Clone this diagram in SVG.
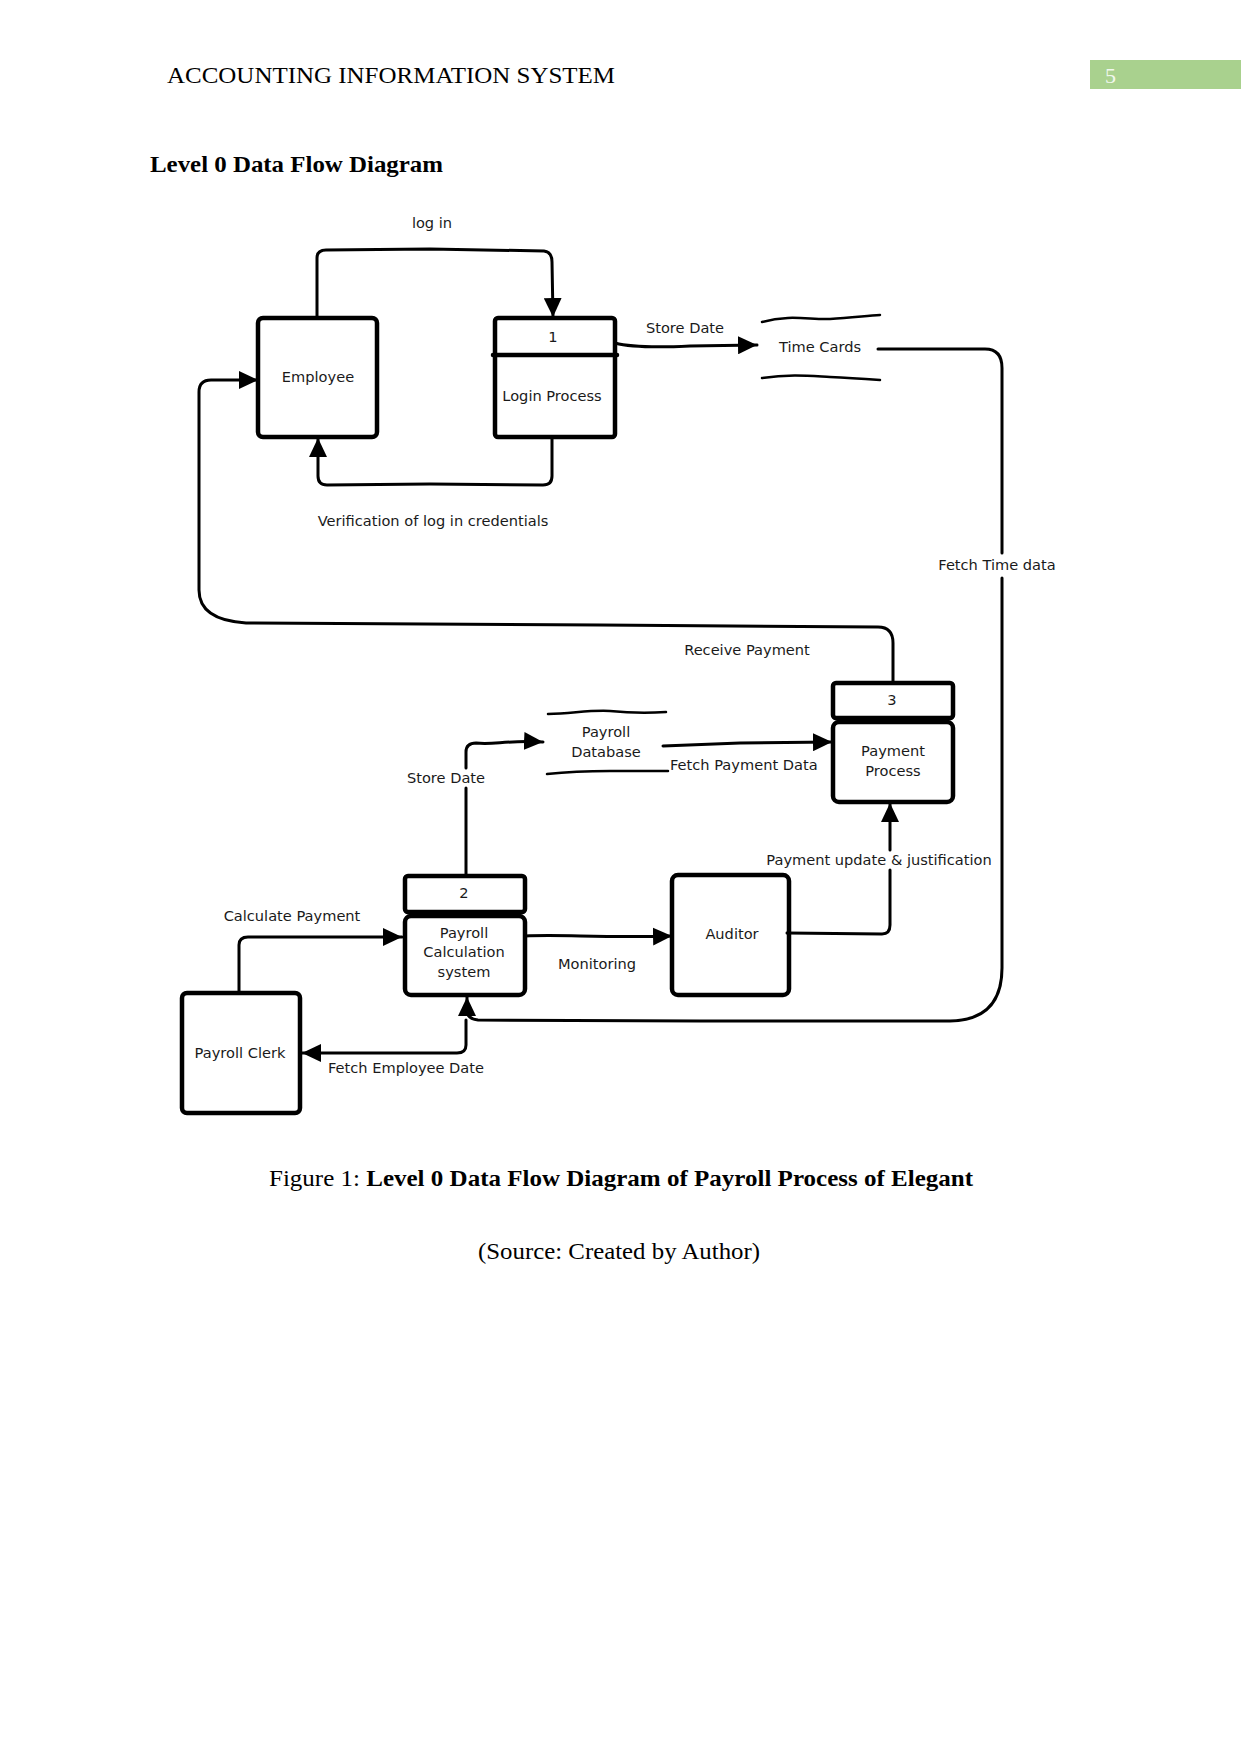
<svg xmlns="http://www.w3.org/2000/svg" width="1241" height="1754" viewBox="0 0 1241 1754">
<style>
.bg{fill:#fff}
.node{fill:none;stroke:#000;stroke-width:4.5;stroke-linejoin:round;stroke-linecap:round}
.store{fill:none;stroke:#000;stroke-width:2.5;stroke-linecap:round}
.edge{fill:none;stroke:#000;stroke-width:3;stroke-linejoin:round;stroke-linecap:round}
.lbl{font-family:"DejaVu Sans",sans-serif;font-size:14.6px;fill:#1a1a1a;text-anchor:middle}
.serif{font-family:"Liberation Serif","Times New Roman",serif;fill:#000}
</style>
<defs>
<marker id="arr" markerUnits="userSpaceOnUse" markerWidth="20" markerHeight="18" refX="19" refY="9" orient="auto">
<path d="M0,0 L19,9 L0,18 Z" fill="#000"/>
</marker>
</defs>
<rect class="bg" x="0" y="0" width="1241" height="1754"/>

<g id="page-header">
<text class="serif" x="167" y="83" font-size="24" textLength="448" lengthAdjust="spacingAndGlyphs">ACCOUNTING INFORMATION SYSTEM</text>
<rect x="1090" y="60" width="151" height="29" fill="#a9d18e"/>
<text class="serif" x="1105" y="83" font-size="22" style="fill:#f2f8ee">5</text>
<text class="serif" x="150" y="172" font-size="24" font-weight="bold" textLength="293" lengthAdjust="spacingAndGlyphs">Level 0 Data Flow Diagram</text>
</g>

<g id="connectors">
<!-- log in -->
<path class="edge" d="M317,318 V258 Q317,250 326,250 L430,249 L544,251 Q552,252 552,262 L553,317" marker-end="url(#arr)"/>
<!-- verification -->
<path class="edge" d="M552,437 V476 Q552,485 543,485 L430,484 L327,485 Q318,485 318,476 V438" marker-end="url(#arr)"/>
<!-- store date to time cards -->
<path class="edge" d="M615,343 C630,347 650,348 690,346 L757,345" marker-end="url(#arr)"/>
<!-- fetch time data -->
<path class="edge" d="M878,349 H985 Q1002,349 1002,368 V553"/>
<path class="edge" d="M1002,578 V968 Q1002,1020 950,1021 L700,1021 L478,1020 Q467,1019 467,1010 L467,997" marker-end="url(#arr)"/>
<!-- receive payment -->
<path class="edge" d="M893,683 V643 Q893,627 878,627 L600,625 L246,623 Q199,620 199,590 V392 Q199,380 211,380 H258" marker-end="url(#arr)"/>
<!-- store date to payroll database -->
<path class="edge" d="M466,876 V788"/>
<path class="edge" d="M466,768 V752 Q466,743 476,743 C495,745 505,740 543,742" marker-end="url(#arr)"/>
<!-- fetch payment data -->
<path class="edge" d="M663,746 L740,743 L832,742" marker-end="url(#arr)"/>
<!-- payment update & justification -->
<path class="edge" d="M787,933 L882,934 Q890,934 890,925 V870"/>
<path class="edge" d="M890,850 V803" marker-end="url(#arr)"/>
<!-- calculate payment -->
<path class="edge" d="M239,993 V945 Q239,937 248,937 H402" marker-end="url(#arr)"/>
<!-- fetch employee date -->
<path class="edge" d="M466,1020 V1045 Q466,1053 457,1053 H302" marker-end="url(#arr)"/>
<!-- monitoring -->
<path class="edge" d="M525,936 C560,934 600,938 672,936" marker-end="url(#arr)"/>
</g>

<g id="employee">
<rect class="node" x="258" y="318" width="119" height="119" rx="5"/>
<text class="lbl" x="318" y="382">Employee</text>
</g>

<g id="process-1">
<rect class="node" x="495" y="318" width="120" height="119" rx="3"/>
<line class="node" x1="493" y1="355" x2="617" y2="355"/>
<text class="lbl" x="553" y="342">1</text>
<text class="lbl" x="552" y="401">Login Process</text>
</g>

<g id="time-cards">
<path class="store" d="M762,322 C790,314 810,320 830,319 C850,318 865,316 880,315"/>
<path class="store" d="M762,378 C790,374 810,376 830,377 C850,378 865,379 880,380"/>
<text class="lbl" x="820" y="352">Time Cards</text>
</g>

<g id="payroll-database">
<path class="store" d="M548,714 C575,713 590,710 610,711 C630,713 650,713 666,712"/>
<path class="store" d="M547,774 C575,771 590,771 610,771 C630,771 650,771 668,771"/>
<text class="lbl" x="606" y="737">Payroll</text>
<text class="lbl" x="606" y="757">Database</text>
</g>

<g id="process-3">
<rect class="node" x="833" y="683" width="120" height="35" rx="3"/>
<rect class="node" x="833" y="722" width="120" height="80" rx="6"/>
<text class="lbl" x="892" y="705">3</text>
<text class="lbl" x="893" y="756">Payment</text>
<text class="lbl" x="893" y="776">Process</text>
</g>

<g id="process-2">
<rect class="node" x="405" y="876" width="120" height="36" rx="3"/>
<rect class="node" x="405" y="916" width="120" height="79" rx="6"/>
<text class="lbl" x="464" y="898">2</text>
<text class="lbl" x="464" y="938">Payroll</text>
<text class="lbl" x="464" y="957">Calculation</text>
<text class="lbl" x="464" y="977">system</text>
</g>

<g id="auditor">
<rect class="node" x="672" y="875" width="117" height="120" rx="6"/>
<text class="lbl" x="732" y="939">Auditor</text>
</g>

<g id="payroll-clerk">
<rect class="node" x="182" y="993" width="118" height="120" rx="5"/>
<text class="lbl" x="240" y="1058">Payroll Clerk</text>
</g>

<g id="edge-labels">
<text class="lbl" x="432" y="228">log in</text>
<text class="lbl" x="433" y="526">Verification of log in credentials</text>
<text class="lbl" x="685" y="333">Store Date</text>
<text class="lbl" x="997" y="570">Fetch Time data</text>
<text class="lbl" x="747" y="655">Receive Payment</text>
<text class="lbl" x="446" y="783">Store Date</text>
<text class="lbl" x="670" y="770" style="text-anchor:start">Fetch Payment Data</text>
<text class="lbl" x="879" y="865">Payment update &amp; justification</text>
<text class="lbl" x="292" y="921">Calculate Payment</text>
<text class="lbl" x="597" y="969">Monitoring</text>
<text class="lbl" x="406" y="1073">Fetch Employee Date</text>
</g>

<g id="caption">
<text class="serif" x="269" y="1186" font-size="24" textLength="704" lengthAdjust="spacingAndGlyphs">Figure 1: <tspan font-weight="bold">Level 0 Data Flow Diagram of Payroll Process of Elegant</tspan></text>
<text class="serif" x="478" y="1259" font-size="24" textLength="282" lengthAdjust="spacingAndGlyphs">(Source: Created by Author)</text>
</g>
</svg>
